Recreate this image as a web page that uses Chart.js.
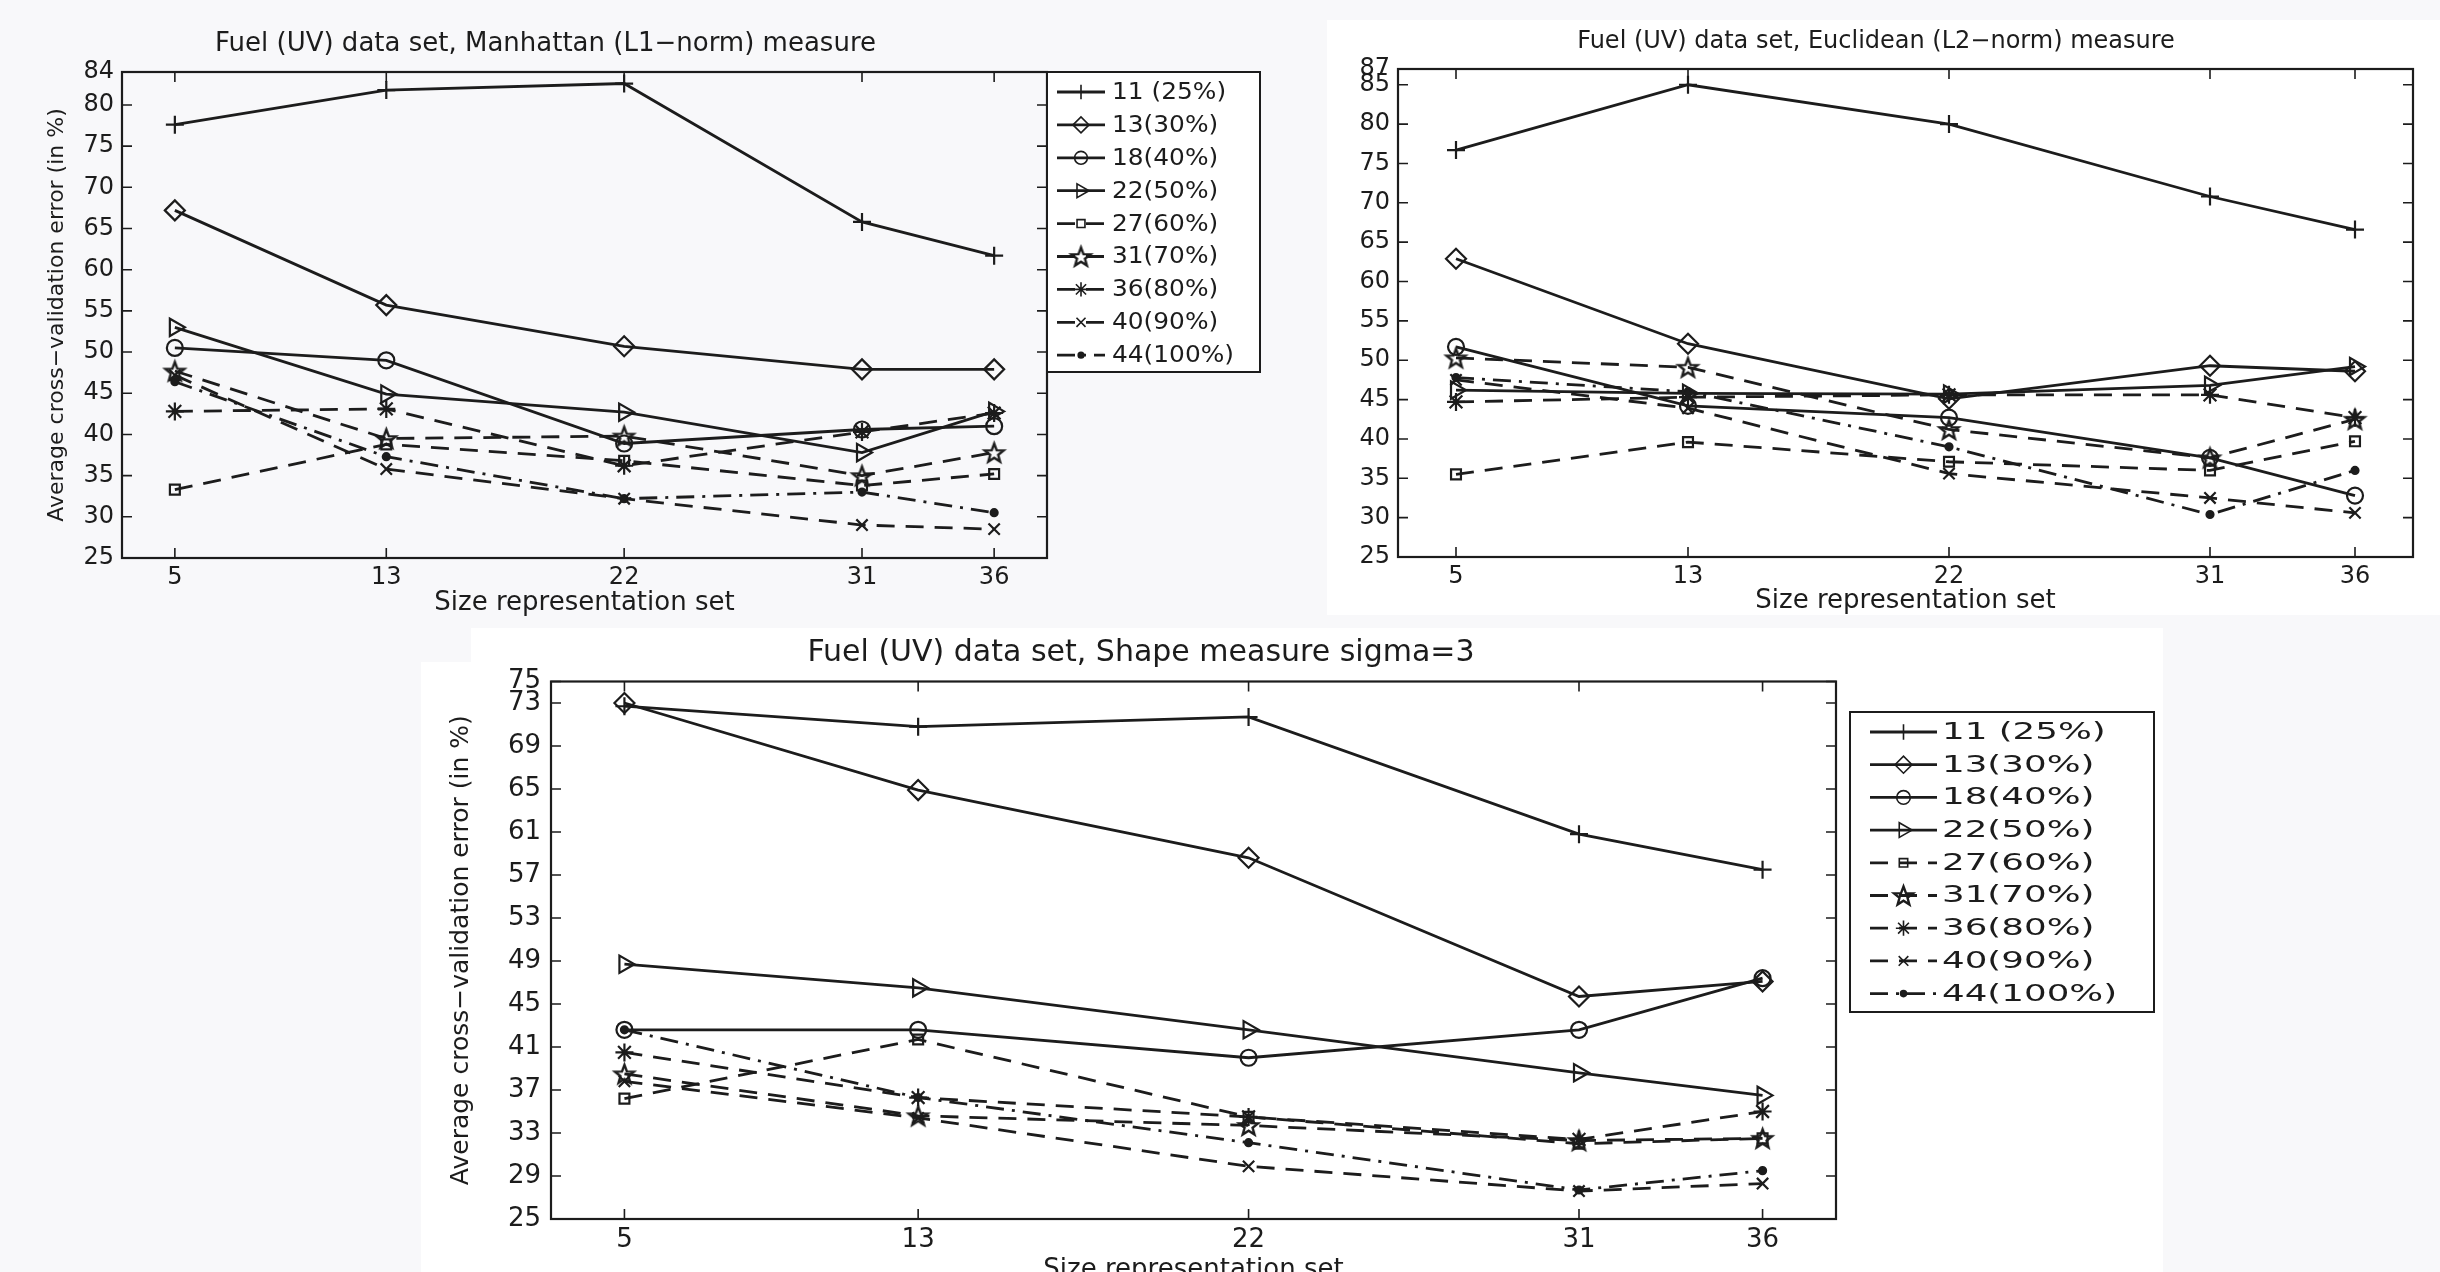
<!DOCTYPE html>
<html>
<head>
<meta charset="utf-8">
<script src="https://cdn.jsdelivr.net/npm/chart.js"></script>
<style>
html,body{margin:0;padding:0;width:2440px;height:1272px;overflow:hidden;background:#f8f8fa;}
.panel{position:absolute;background:#ffffff;}
canvas{position:absolute;}
</style>
</head>
<body>
<div class="panel" style="left:1327px;top:20px;width:1113px;height:595px"></div>
<div class="panel" style="left:471px;top:628px;width:1692px;height:40px"></div>
<div class="panel" style="left:421px;top:662px;width:1742px;height:610px"></div>
<canvas id="c1" width="1330" height="640" style="left:0px;top:0px"></canvas>
<canvas id="c2" width="1113" height="600" style="left:1327px;top:20px"></canvas>
<canvas id="c3" width="1800" height="666" style="left:400px;top:620px"></canvas>
<script>
// ---------- data ----------
const sizes = [5, 13, 22, 31, 36];
const seriesLabels = ["11 (25%)", "13(30%)", "18(40%)", "22(50%)", "27(60%)", "31(70%)", "36(80%)", "40(90%)", "44(100%)"];

// Manhattan (L1-norm)
const l1_s11 = [77.6, 81.8, 82.6, 65.8, 61.7];
const l1_s13 = [67.2, 55.7, 50.7, 47.9, 47.9];
const l1_s18 = [50.5, 49.0, 38.9, 40.6, 41.0];
const l1_s22 = [53.0, 44.9, 42.7, 37.8, 42.8];
const l1_s27 = [33.3, 38.8, 36.8, 33.8, 35.2];
const l1_s31 = [47.7, 39.5, 39.8, 35.0, 37.8];
const l1_s36 = [42.8, 43.1, 36.2, 40.3, 42.6];
const l1_s40 = [47.2, 35.8, 32.2, 29.0, 28.5];
const l1_s44 = [46.4, 37.3, 32.2, 33.0, 30.5];

// Euclidean (L2-norm)
const l2_s11 = [76.7, 85.0, 80.0, 70.8, 66.6];
const l2_s13 = [62.9, 52.1, 45.1, 49.3, 48.6];
const l2_s18 = [51.7, 44.2, 42.7, 37.6, 32.8];
const l2_s22 = [46.2, 45.8, 45.7, 46.8, 49.2];
const l2_s27 = [35.5, 39.6, 37.1, 36.0, 39.7];
const l2_s31 = [50.3, 49.1, 41.2, 37.6, 42.5];
const l2_s36 = [44.7, 45.3, 45.6, 45.6, 42.7];
const l2_s40 = [47.5, 43.9, 35.6, 32.5, 30.6];
const l2_s44 = [47.8, 46.0, 39.0, 30.4, 36.0];

// Shape measure sigma=3
const sh_s11 = [72.7, 70.8, 71.7, 60.8, 57.5];
const sh_s13 = [73.0, 64.9, 58.6, 45.7, 47.1];
const sh_s18 = [42.6, 42.6, 40.0, 42.6, 47.4];
const sh_s22 = [48.7, 46.5, 42.6, 38.6, 36.5];
const sh_s27 = [36.2, 41.7, 34.5, 32.0, 32.5];
const sh_s31 = [38.5, 34.6, 33.7, 32.3, 32.5];
const sh_s36 = [40.5, 36.3, 34.5, 32.4, 35.0];
const sh_s40 = [37.8, 34.4, 29.9, 27.6, 28.3];
const sh_s44 = [42.6, 36.3, 32.1, 27.7, 29.5];

// tick labels
const yTicksL1 = [25, 30, 35, 40, 45, 50, 55, 60, 65, 70, 75, 80, 84];
const yTicksL2 = [25, 30, 35, 40, 45, 50, 55, 60, 65, 70, 75, 80, 85, 87];
const yTicksShape = [25, 29, 33, 37, 41, 45, 49, 53, 57, 61, 65, 69, 73, 75];

const titleL1 = "Fuel (UV) data set, Manhattan (L1\u2212norm) measure";
const titleL2 = "Fuel (UV) data set, Euclidean (L2\u2212norm) measure";
const titleShape = "Fuel (UV) data set, Shape measure sigma=3";
const xLabel = "Size representation set";
const yLabel = "Average cross\u2212validation error (in %)";

// ---------- styles ----------
const INK = '#1c1c1c';
const FONT = 'DejaVu Sans';
function pentagram(r, lw) {
  const c = document.createElement('canvas');
  const s = Math.ceil(2 * r + lw + 4);
  c.width = s; c.height = s;
  const g = c.getContext('2d');
  g.translate(s / 2, s / 2 + 1);
  g.beginPath();
  for (let k = 0; k < 10; k++) {
    const rr = (k % 2) ? r * 0.42 : r;
    const a = -Math.PI / 2 + k * Math.PI / 5;
    g.lineTo(rr * Math.cos(a), rr * Math.sin(a));
  }
  g.closePath();
  g.lineWidth = lw; g.strokeStyle = INK; g.lineJoin = 'miter';
  g.stroke();
  return c;
}
const STAR = pentagram(10, 2.4);
const markerStyles = ['cross', 'rectRot', 'circle', 'triangle', 'rect', STAR, 'star', 'crossRot', 'circle'];
const markerRadius = [9, 10, 8, 10, 7, 10, 9, 8, 3.5];
const markerRotation = [0, 0, 0, 90, 0, 0, 0, 0, 0];
const lineDash = [[], [], [], [], [18, 11], [18, 11], [18, 11], [18, 11], [18, 8, 3, 8]];

// ---------- plugins ----------
const frame = {
  id: 'frame',
  afterDatasetsDraw(chart) {
    const {ctx, chartArea: a, scales} = chart;
    const tl = 10;
    ctx.save();
    ctx.setLineDash([]);
    ctx.strokeStyle = INK;
    ctx.lineWidth = 1.6;
    ctx.beginPath();
    scales.x.ticks.forEach(t => {
      const p = scales.x.getPixelForValue(t.value);
      ctx.moveTo(p, a.bottom); ctx.lineTo(p, a.bottom - tl);
      ctx.moveTo(p, a.top); ctx.lineTo(p, a.top + tl);
    });
    scales.y.ticks.forEach(t => {
      const p = scales.y.getPixelForValue(t.value);
      ctx.moveTo(a.left, p); ctx.lineTo(a.left + tl, p);
      ctx.moveTo(a.right, p); ctx.lineTo(a.right - tl, p);
    });
    ctx.stroke();
    ctx.lineWidth = 2.2;
    ctx.strokeRect(a.left, a.top, a.right - a.left, a.bottom - a.top);
    ctx.restore();
  }
};

function fallbackPoint(ctx, o, x, y) {
  ctx.beginPath();
  ctx.arc(x, y, o.radius, 0, Math.PI * 2);
  ctx.fill(); ctx.stroke();
}

const mlegend = {
  id: 'mlegend',
  afterDraw(chart, args, o) {
    if (!o || !o.bw) return;
    const ctx = chart.ctx;
    const drawPoint = (Chart.helpers && Chart.helpers.drawPoint) ? Chart.helpers.drawPoint : fallbackPoint;
    ctx.save();
    ctx.fillStyle = '#ffffff';
    ctx.fillRect(o.bx, o.by, o.bw, o.bh);
    ctx.strokeStyle = INK; ctx.lineWidth = 2;
    ctx.strokeRect(o.bx, o.by, o.bw, o.bh);
    chart.data.datasets.forEach((ds, i) => {
      const y = o.first + i * o.step;
      ctx.strokeStyle = INK;
      ctx.lineWidth = ds.borderWidth;
      ctx.setLineDash(ds.borderDash || []);
      ctx.beginPath(); ctx.moveTo(o.x0, y); ctx.lineTo(o.x1, y); ctx.stroke();
      ctx.setLineDash([]);
      ctx.lineWidth = 1.6;
      ctx.fillStyle = ds.pointBackgroundColor;
      drawPoint(ctx, {pointStyle: ds.pointStyle, rotation: ds.pointRotation || 0,
        radius: ds.pointRadius * o.ms, borderWidth: 1.6}, (o.x0 + o.x1) / 2, y);
      ctx.fillStyle = INK;
      ctx.font = o.font;
      ctx.textBaseline = 'middle';
      ctx.textAlign = 'left';
      ctx.save();
      ctx.translate(o.tx, y + 1);
      ctx.scale(o.sx, 1);
      ctx.fillText(ds.label, 0, 0);
      ctx.restore();
    });
    ctx.restore();
  }
};

// ---------- builder ----------
function build(id, series, L) {
  const datasets = series.map((vals, i) => ({
    label: seriesLabels[i],
    data: sizes.map((s, j) => ({x: s, y: vals[j]})),
    borderColor: INK,
    backgroundColor: 'rgba(0,0,0,0)',
    borderWidth: 2.8,
    borderDash: lineDash[i],
    pointStyle: markerStyles[i],
    pointRadius: markerRadius[i],
    pointRotation: markerRotation[i],
    pointBorderWidth: 2.2,
    pointBorderColor: INK,
    pointBackgroundColor: i === 8 ? INK : 'rgba(0,0,0,0)',
    tension: 0,
    fill: false
  }));
  return new Chart(document.getElementById(id), {
    type: 'line',
    data: {datasets},
    options: {
      responsive: false,
      animation: false,
      devicePixelRatio: 1,
      events: [],
      layout: {padding: {left: L.pl, right: L.pr, top: 0, bottom: L.pb}},
      plugins: {
        legend: {display: false},
        tooltip: {enabled: false},
        title: {
          display: true, text: L.title, color: INK,
          font: {family: FONT, size: L.titleSize, weight: 'normal', lineHeight: 1.2},
          padding: {top: L.tpt, bottom: L.tpb}
        },
        mlegend: L.legend || false
      },
      scales: {
        x: {
          type: 'linear', min: 3, max: 38,
          afterBuildTicks: s => { s.ticks = sizes.map(v => ({value: v})); },
          afterFit: s => { s.height = L.xh; },
          ticks: {autoSkip: false, maxRotation: 0, color: INK, padding: L.xtp,
            font: {family: FONT, size: L.tickSize, lineHeight: 1.2}},
          grid: {display: false, drawTicks: false},
          border: {display: false},
          title: {display: true, text: xLabel, color: INK, padding: 0,
            font: {family: FONT, size: 26, lineHeight: 1.2}}
        },
        y: {
          type: 'linear', min: L.ymin, max: L.ymax,
          afterBuildTicks: s => { s.ticks = L.yticks.map(v => ({value: v})); },
          afterFit: s => { s.width = L.yw; },
          ticks: {autoSkip: false, color: INK, padding: L.ytp,
            font: {family: FONT, size: L.tickSize, lineHeight: 1.2}},
          grid: {display: false, drawTicks: false},
          border: {display: false},
          title: {display: !!L.ylabel, text: L.ylabel || '', color: INK, padding: 0,
            font: {family: FONT, size: L.ylabelSize || 22, lineHeight: 1.2}}
        }
      }
    },
    plugins: [frame, mlegend]
  });
}

build('c1', [l1_s11, l1_s13, l1_s18, l1_s22, l1_s27, l1_s31, l1_s36, l1_s40, l1_s44], {
  pl: 44, pr: 283, pb: 21.4, yw: 78, xh: 60.6, xtp: 5.6, ytp: 8,
  title: titleL1, titleSize: 26, tpt: 28.4, tpb: 12.4,
  tickSize: 24,
  ymin: 25, ymax: 84, yticks: yTicksL1, ylabel: yLabel, ylabelSize: 22,
  legend: {bx: 1047, by: 72, bw: 213, bh: 300, first: 92, step: 32.9, x0: 1057, x1: 1105, tx: 1112,
    font: '23px "DejaVu Sans"', sx: 1.08, ms: 0.8}
});

build('c2', [l2_s11, l2_s13, l2_s18, l2_s22, l2_s27, l2_s31, l2_s36, l2_s40, l2_s44], {
  pl: 12, pr: 27, pb: 3.4, yw: 59, xh: 59.6, xtp: 5.6, ytp: 8,
  title: titleL2, titleSize: 24, tpt: 7.1, tpb: 13.1,
  tickSize: 24,
  ymin: 25, ymax: 87, yticks: yTicksL2, ylabel: ''
});

build('c3', [sh_s11, sh_s13, sh_s18, sh_s22, sh_s27, sh_s31, sh_s36, sh_s40, sh_s44], {
  pl: 46, pr: 364, pb: 0.4, yw: 105, xh: 66.6, xtp: 5.4, ytp: 10,
  title: titleShape, titleSize: 30, tpt: 15, tpb: 10.5,
  tickSize: 26,
  ymin: 25, ymax: 75, yticks: yTicksShape, ylabel: yLabel, ylabelSize: 25,
  legend: {bx: 1450, by: 92, bw: 304, bh: 300, first: 112, step: 32.7, x0: 1470, x1: 1537, tx: 1542,
    font: '23px "DejaVu Sans"', sx: 1.55, ms: 0.85}
});
</script>
</body>
</html>
